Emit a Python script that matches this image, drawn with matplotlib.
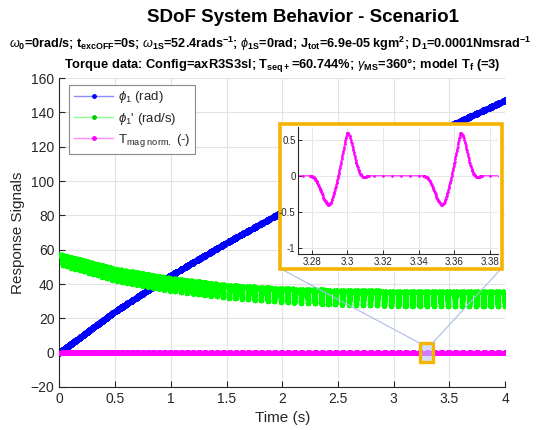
import numpy as np
import matplotlib
matplotlib.use('Agg')
import matplotlib.pyplot as plt
from matplotlib.lines import Line2D
from matplotlib.patches import Rectangle, ConnectionPatch

plt.rcParams['font.family'] = ['Liberation Sans', 'DejaVu Sans']
plt.rcParams['mathtext.fontset'] = 'custom'
plt.rcParams['mathtext.rm'] = 'Liberation Sans'
plt.rcParams['mathtext.it'] = 'Liberation Sans:italic'
plt.rcParams['mathtext.bf'] = 'Liberation Sans:bold'

# values
t_read = np.array([0, 0.5, 1, 1.5, 2, 2.5, 3, 3.5, 4])
phi_read = np.array([0, 24, 45, 64, 82, 99, 116, 132, 147])          # phi_1 (rad)
w_top = np.array([57, 48.5, 43, 39, 37, 36, 35.5, 35.3, 35.2])      # upper edge of phi_1'
w_bot = np.array([51.5, 42, 36, 32, 29.5, 28, 27.3, 27, 27])        # lower edge of phi_1'

# one torque pulse (offset from pulse start in s, normalised torque)
pulse_dt = np.array([0, 0.002, 0.004, 0.006, 0.008, 0.0103, 0.012, 0.014, 0.016, 0.018,
                     0.020, 0.021, 0.0225, 0.024, 0.026, 0.028, 0.030, 0.031, 0.033])
pulse_T = np.array([0, -0.02, -0.08, -0.20, -0.33, -0.41, -0.37, -0.20, 0.0, 0.25,
                    0.50, 0.60, 0.55, 0.40, 0.18, 0.03, -0.02, -0.015, 0])
# speed dip during a pulse (offset from pulse start in s, fraction of tooth depth)
dip_dt = np.array([0, 0.009, 0.012, 0.015, 0.017, 0.019, 0.022, 0.033])
dip_g = np.array([0, 0, 0.55, 0.95, 1.0, 0.6, 0, 0])
pulse_start_ref = 3.279    # a pulse starts here (inset)
pulse_period_ref = 0.0636  # pulse spacing near t = 3.3 s


def w_mid(t):
    return 0.5 * (np.interp(t, t_read, w_top) + np.interp(t, t_read, w_bot))


# pulse start times (pulses are angle based, so spacing follows the speed)
w_ref = w_mid(3.3)
starts = [pulse_start_ref]
t = pulse_start_ref
while t > -0.05:
    t -= pulse_period_ref * w_ref / w_mid(max(t, 0))
    starts.insert(0, t)
t = pulse_start_ref
while t < 4:
    t += pulse_period_ref * w_ref / w_mid(t)
    starts.append(t)

# output time grid: coarse + dense inside pulses
t_out = [np.arange(0, 4.0001, 0.005)]
for s in starts:
    sc = w_ref / w_mid(max(s, 0))
    t_out.append(s + np.linspace(0, pulse_dt[-1] * sc, 140))
t_out = np.unique(np.concatenate(t_out))
t_out = t_out[(t_out >= 0) & (t_out <= 4)]

T_out = np.zeros_like(t_out)
g_out = np.zeros_like(t_out)
for s in starts:
    sc = w_ref / w_mid(max(s, 0))
    m = (t_out >= s) & (t_out <= s + pulse_dt[-1] * sc)
    T_out[m] = np.interp(t_out[m] - s, pulse_dt * sc, pulse_T)
    g_out[m] = np.interp(t_out[m] - s, dip_dt * sc, dip_g)

top = np.interp(t_out, t_read, w_top)
bot = np.interp(t_out, t_read, w_bot)
w_out = top - (top - bot) * g_out
phi_out = np.interp(t_out, t_read, phi_read)

fig = plt.figure(figsize=(5.4, 4.3), dpi=100)
ax = fig.add_axes([0.1098, 0.1, 0.8258, 0.7186])

tick_c = '#262626'
ax.plot(t_out, phi_out, '-', color=(0, 0, 1), lw=1, alpha=0.4, zorder=2)
ax.plot(t_out, phi_out, '.', color=(0, 0, 1), ms=6, zorder=2)
ax.plot(t_out, w_out, '-', color=(0, 1, 0), lw=1.5, alpha=0.6, zorder=3)
ax.plot(t_out, w_out, '.', color=(0, 1, 0), ms=5.5, zorder=3)
ax.plot(t_out, T_out, '-', color=(1, 0, 1), lw=1, alpha=0.4, zorder=4)
ax.plot(t_out[::3], T_out[::3], '.', color=(1, 0, 1), ms=5, zorder=4)

ax.set_xlim(0, 4)
ax.set_ylim(-20, 160)
ax.set_xticks(np.arange(0, 4.01, 0.5))
ax.set_xticklabels(['0', '0.5', '1', '1.5', '2', '2.5', '3', '3.5', '4'])
ax.set_yticks(np.arange(-20, 161, 20))
ax.grid(True, color='#e3e3e3', lw=0.8)
ax.set_axisbelow(True)
for side in ['top', 'right']:
    ax.spines[side].set_visible(False)
for side in ['left', 'bottom']:
    ax.spines[side].set_color(tick_c)
    ax.spines[side].set_linewidth(0.8)
ax.tick_params(direction='in', length=4, width=0.8, colors=tick_c, labelsize=10)
ax.set_xlabel('Time (s)', fontsize=11, color=tick_c)
ax.set_ylabel('Response Signals', fontsize=11, color=tick_c)

handles = [
    Line2D([], [], color=(0.55, 0.55, 1), lw=1, marker='.', ms=5,
           markerfacecolor=(0, 0, 1), markeredgecolor=(0, 0, 1)),
    Line2D([], [], color=(0.55, 1, 0.55), lw=1, marker='.', ms=5,
           markerfacecolor=(0, 0.8, 0), markeredgecolor=(0, 0.8, 0)),
    Line2D([], [], color=(1, 0.55, 1), lw=1, marker='.', ms=5,
           markerfacecolor=(1, 0, 1), markeredgecolor=(1, 0, 1)),
]
labels = [r'$\phi_1$ (rad)', r"$\phi_1$' (rad/s)", r'T$_{\mathrm{mag\ norm.}}$ (-)']
leg = ax.legend(handles, labels, loc='upper left', bbox_to_anchor=(0.022, 0.978),
                fontsize=9.5, frameon=True, fancybox=False, framealpha=1, numpoints=1,
                edgecolor='#8c8c8c', handlelength=3.0, borderaxespad=0,
                labelspacing=0.4, borderpad=0.35, handletextpad=0.35)
leg.get_frame().set_linewidth(0.8)
for txt in leg.get_texts():
    txt.set_color(tick_c)

# zoom marker in the main axes
orange = '#f5b400'
ax.add_patch(Rectangle((3.232, -5.6), 0.116, 11.2, facecolor=(0.72, 0.8, 0.95),
                       alpha=0.6, edgecolor='none', zorder=5))
ax.add_patch(Rectangle((3.232, -5.6), 0.116, 11.2, facecolor='none',
                       edgecolor=orange, lw=2.4, zorder=6))

# inset frame
fig.add_artist(Rectangle((0.5185, 0.3744), 0.4111, 0.3372, transform=fig.transFigure,
                         facecolor='white', edgecolor=orange, lw=2.6, zorder=3))

for xa, xb in [(3.232, 283 / 540), (3.348, 500 / 540)]:
    con = ConnectionPatch(xyA=(xa, 5.6), coordsA=ax.transData,
                          xyB=(xb, 1 - 270 / 430), coordsB=fig.transFigure,
                          color='#a9bde6', lw=0.8, zorder=2.5)
    fig.add_artist(con)

axi = fig.add_axes([0.5524, 0.4086, 0.3704, 0.2967], zorder=4)
mi = (t_out >= 3.26) & (t_out <= 3.40)
axi.plot(t_out[mi], T_out[mi], '-', color=(1, 0, 1), lw=1, alpha=0.7)
axi.plot(t_out[mi], T_out[mi], '.', color=(1, 0, 1), ms=1.8)
axi.set_xlim(3.2725, 3.3847)
axi.set_ylim(-1.09, 0.68)
axi.set_xticks(np.arange(3.28, 3.381, 0.02))
axi.set_xticklabels(['3.28', '3.3', '3.32', '3.34', '3.36', '3.38'])
axi.set_yticks([-1, -0.5, 0, 0.5])
axi.set_yticklabels(['-1', '-0.5', '0', '0.5'])
axi.grid(True, color='#e6e6e6', lw=0.7)
axi.set_axisbelow(True)
for side in ['top', 'right']:
    axi.spines[side].set_visible(False)
for side in ['left', 'bottom']:
    axi.spines[side].set_color(tick_c)
    axi.spines[side].set_linewidth(0.8)
axi.tick_params(direction='in', length=3, width=0.7, colors=tick_c, labelsize=7, pad=2)

# titles
fig.text(303 / 540, 1 - 18 / 430, 'SDoF System Behavior - Scenario1', ha='center',
         va='center', fontsize=13.5, fontweight='bold', color='black')
line1 = (r'$\omega_{\mathbf{0}}$=0rad/s; t$_{\mathbf{excOFF}}$=0s; '
         r'$\omega_{\mathbf{1S}}$=52.4rads$^{\mathbf{-1}}$; $\phi_{\mathbf{1S}}$=0rad; '
         r'J$_{\mathbf{tot}}$=6.9e-05 kgm$^{\mathbf{2}}$; D$_{\mathbf{1}}$=0.0001Nmsrad$^{\mathbf{-1}}$')
fig.text(9 / 540, 1 - 44 / 430, line1, ha='left', va='center', fontsize=9.1,
         fontweight='bold', color='black')
line2 = (r'Torque data: Config=axR3S3sl; T$_{\mathbf{seq+}}$=60.744%; '
         r'$\gamma_{\mathbf{MS}}$=360°; model T$_{\mathbf{f}}$ (=3)')
fig.text(282 / 540, 1 - 66 / 430, line2, ha='center', va='center', fontsize=9.3,
         fontweight='bold', color='black')

fig.savefig('out.png', dpi=100)
